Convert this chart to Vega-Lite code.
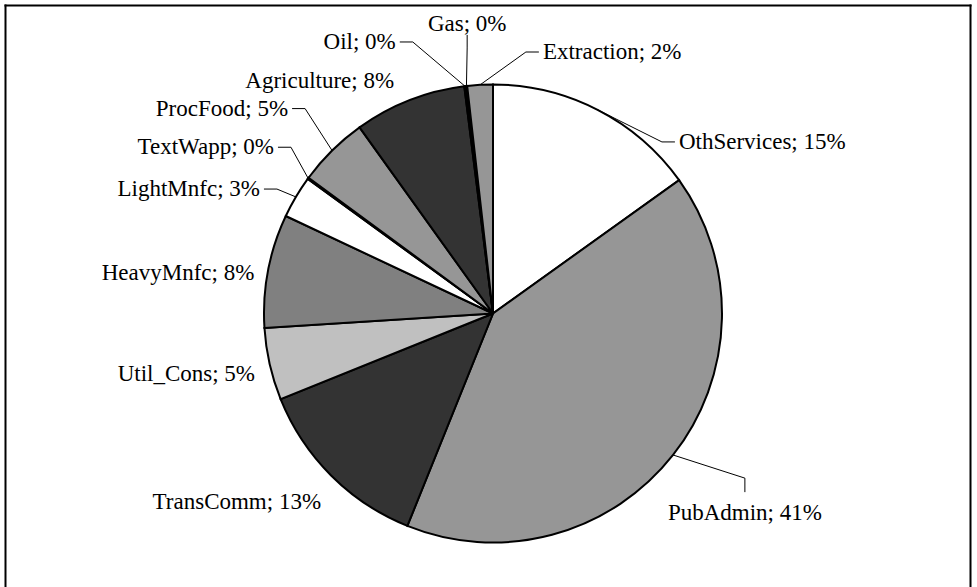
{
  "$schema": "https://vega.github.io/schema/vega-lite/v6.json",
  "width": 965,
  "height": 582,
  "autosize": {"type": "none"},
  "padding": {"left": 5, "top": 5, "right": 7, "bottom": 0},
  "background": "white",
  "config": {
    "view": {"stroke": null},
    "axis": {"domain": true, "domainColor": "black", "domainWidth": 2, "domainCap": "square", "ticks": false, "labels": false, "grid": false, "title": null}
  },
  "resolve": {"axis": {"x": "independent", "y": "independent"}},
  "data": {
    "values": [
      {"order": 0, "sector": "OthServices", "share": 15.1},
      {"order": 1, "sector": "PubAdmin", "share": 41.0},
      {"order": 2, "sector": "TransComm", "share": 12.8},
      {"order": 3, "sector": "Util_Cons", "share": 5.1},
      {"order": 4, "sector": "HeavyMnfc", "share": 8.0},
      {"order": 5, "sector": "LightMnfc", "share": 3.0},
      {"order": 6, "sector": "TextWapp", "share": 0.1},
      {"order": 7, "sector": "ProcFood", "share": 5.0},
      {"order": 8, "sector": "Agriculture", "share": 7.9},
      {"order": 9, "sector": "Oil", "share": 0.1},
      {"order": 10, "sector": "Gas", "share": 0.1},
      {"order": 11, "sector": "Extraction", "share": 1.8}
    ]
  },
  "transform": [
    {"stack": "share", "groupby": [], "sort": [{"field": "order", "order": "ascending"}], "as": ["s0", "s1"]},
    {"calculate": "(datum.s0 + datum.s1) * PI / 100", "as": "m"},
    {"calculate": "229 * sin(datum.m)", "as": "ex"},
    {"calculate": "229 * cos(datum.m)", "as": "ey"},
    {"calculate": "[47.3, 128.4, 222.4, 255.7, 279.6, 298.1, 307.2, 315.0, 337.0, 340.3, 354.9, 10.8][datum.order] * PI / 180", "as": "lt"},
    {"calculate": "[253, 321.4, 255, 245.6, 242, 264.2, 275, 289.8, 253, 288.4, 290.7, 266.2][datum.order]", "as": "lr"},
    {"calculate": "datum.lr * sin(datum.lt)", "as": "lx"},
    {"calculate": "datum.lr * cos(datum.lt)", "as": "ly"},
    {"calculate": "['left','center','right','right','right','right','right','right','right','right','center','left'][datum.order]", "as": "al"},
    {"calculate": "[1,1,0,0,0,1,1,1,0,1,1,1][datum.order]", "as": "lead"},
    {"calculate": "datum.al === 'left' ? -1 : (datum.al === 'right' ? 1 : 0)", "as": "h"},
    {"calculate": "datum.lx + datum.h * 4", "as": "tx"},
    {"calculate": "datum.al === 'center' ? (datum.ly > 0 ? datum.ly - 11 : datum.ly + 21) : datum.ly", "as": "ty"},
    {"calculate": "datum.lx + datum.h * 17", "as": "bx"},
    {"calculate": "datum.al === 'center' ? (datum.ly > 0 ? datum.ly - 24 : datum.ly + 35) : datum.ly", "as": "by"},
    {"calculate": "datum.sector + '; ' + format(datum.share / 100, '.0%')", "as": "label"}
  ],
  "layer": [
    {
      "mark": {"type": "arc", "outerRadius": 229, "stroke": "black", "strokeWidth": 2, "strokeJoin": "miter"},
      "encoding": {
        "x": {"datum": 0, "type": "quantitative", "scale": {"domain": [-488, 477], "nice": false, "zero": false}, "axis": {"orient": "top"}},
        "y": {"datum": 0, "type": "quantitative", "scale": {"domain": [-273.5, 308.5], "nice": false, "zero": false}, "axis": {"orient": "left"}},
        "theta": {"field": "s0", "type": "quantitative", "scale": {"domain": [0, 100], "range": [0, 6.283185307179586]}},
        "theta2": {"field": "s1"},
        "color": {
          "field": "sector", "type": "nominal", "legend": null,
          "scale": {
            "domain": ["OthServices", "PubAdmin", "TransComm", "Util_Cons", "HeavyMnfc", "LightMnfc", "TextWapp", "ProcFood", "Agriculture", "Oil", "Gas", "Extraction"],
            "range": ["#FFFFFF", "#969696", "#333333", "#C0C0C0", "#808080", "#FFFFFF", "#969696", "#969696", "#333333", "#969696", "#969696", "#969696"]
          }
        }
      }
    },
    {
      "transform": [{"filter": "datum.lead === 1"}],
      "mark": {"type": "rule", "stroke": "black", "strokeWidth": 1},
      "encoding": {
        "x": {"field": "ex", "type": "quantitative", "scale": {"domain": [-488, 477], "nice": false, "zero": false}, "axis": null},
        "y": {"field": "ey", "type": "quantitative", "scale": {"domain": [-273.5, 308.5], "nice": false, "zero": false}, "axis": {"orient": "right"}},
        "x2": {"field": "bx"},
        "y2": {"field": "by"}
      }
    },
    {
      "transform": [{"filter": "datum.lead === 1"}],
      "mark": {"type": "rule", "stroke": "black", "strokeWidth": 1},
      "encoding": {
        "x": {"field": "bx", "type": "quantitative", "scale": {"domain": [-488, 477], "nice": false, "zero": false}, "axis": null},
        "y": {"field": "by", "type": "quantitative", "scale": {"domain": [-273.5, 308.5], "nice": false, "zero": false}, "axis": null},
        "x2": {"field": "tx"},
        "y2": {"field": "ty"}
      }
    },
    {
      "mark": {"type": "text", "font": "Liberation Serif", "fontSize": 23, "color": "black", "baseline": "middle", "align": {"expr": "datum.al"}},
      "encoding": {
        "x": {"field": "lx", "type": "quantitative", "scale": {"domain": [-488, 477], "nice": false, "zero": false}, "axis": null},
        "y": {"field": "ly", "type": "quantitative", "scale": {"domain": [-273.5, 308.5], "nice": false, "zero": false}, "axis": null},
        "text": {"field": "label", "type": "nominal"}
      }
    }
  ]
}
